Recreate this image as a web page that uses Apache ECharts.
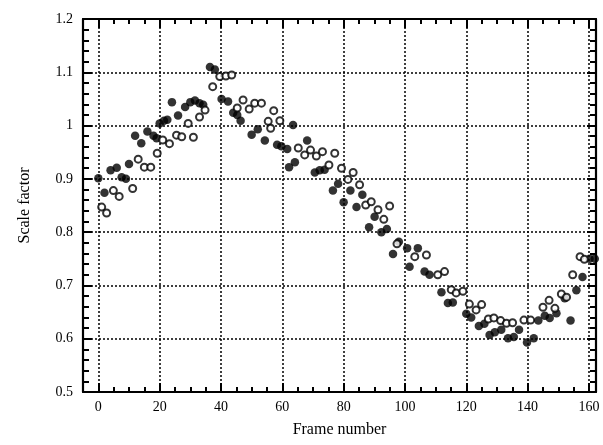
<!DOCTYPE html>
<html>
<head>
<meta charset="utf-8">
<script src="https://cdn.jsdelivr.net/npm/echarts@6/dist/echarts.min.js"></script>
<style>html,body{margin:0;padding:0;background:#fff}#c{width:603px;height:445px}</style>
</head>
<body>
<div id="c"></div>
<script>
// Filled circles
const filledFrames = [0,2,4,6,7.6,9,10,12,14,16,18,19,20,21.4,22.5,24,26,28.3,30,31.5,33,34.2,36.4,38,40.2,42.3,44,45.3,46.4,50,52,54.3,58.3,59.7,61.6,62.2,63.5,64.1,68.1,70.6,72.2,73.8,76.5,78.2,80,82.2,84.2,86.1,88.3,90.1,92.3,94.1,96.1,98,100.7,101.5,104.2,106.4,108,111.9,114,115.6,120,121.6,124.1,125.9,127.6,129.3,131.4,133.6,135.5,137.2,139.8,142,143.5,145.6,147.2,149.4,152.1,154,155.9,157.9,160.2,161.9];
const filledValues = [0.901,0.874,0.916,0.921,0.903,0.900,0.928,0.981,0.967,0.989,0.981,0.976,1.004,1.009,1.011,1.044,1.019,1.035,1.044,1.047,1.042,1.039,1.110,1.105,1.050,1.045,1.024,1.020,1.009,0.983,0.993,0.972,0.964,0.961,0.956,0.922,1.001,0.931,0.972,0.912,0.916,0.917,0.878,0.891,0.856,0.878,0.847,0.870,0.809,0.829,0.800,0.806,0.759,0.782,0.770,0.735,0.770,0.726,0.720,0.687,0.667,0.668,0.647,0.640,0.624,0.628,0.607,0.612,0.617,0.601,0.603,0.617,0.593,0.601,0.634,0.643,0.639,0.648,0.676,0.634,0.691,0.716,0.750,0.750];
// Open circles
const openFrames = [1.1,2.7,4.9,6.8,11.2,13,15,17.1,19.2,21,23.2,25.5,27.2,29.3,31,33,34.8,37.3,39.6,41.6,43.5,45.3,47.2,49.2,51,53.2,55.4,56.2,57.2,59.2,65.2,67.3,69.2,71.1,73.1,75.2,77.1,79.3,81.4,83.1,85.2,87.2,89,91.2,93.1,95,97.4,103.2,107,110.7,112.9,115.1,116.7,118.9,121,123.2,125,127.2,129,131.2,133.1,135.1,138.8,141,145,147,148.9,151,152.7,154.7,157.1,158.5];
const openValues = [0.847,0.836,0.878,0.867,0.882,0.937,0.922,0.922,0.948,0.973,0.966,0.982,0.979,1.004,0.978,1.016,1.029,1.073,1.092,1.093,1.095,1.033,1.048,1.031,1.042,1.042,1.008,0.995,1.028,1.009,0.958,0.945,0.954,0.943,0.951,0.926,0.948,0.920,0.899,0.912,0.889,0.851,0.857,0.842,0.824,0.849,0.778,0.754,0.757,0.720,0.726,0.692,0.686,0.689,0.665,0.654,0.664,0.637,0.639,0.634,0.629,0.630,0.635,0.635,0.659,0.672,0.657,0.684,0.678,0.720,0.754,0.749];
const xMajorTicks = [0,20,40,60,80,100,120,140,160];
const xMinorTicks = [5,10,15,25,30,35,45,50,55,65,70,75,85,90,95,105,110,115,125,130,135,145,150,155];

const font = 'Liberation Serif, Times New Roman, serif';
const chart = echarts.init(document.getElementById('c'));
const xCommon = {type:'value', min:-5, max:162.3, gridIndex:0};
const axisLine = {show:true, onZero:false, lineStyle:{color:'#000', width:2.2}};
const yCommon = {type:'value', min:0.5, max:1.2, interval:0.1};
chart.setOption({
  animation:false,
  grid:{left:83, right:7, top:19, bottom:53, containLabel:false},
  xAxis:[
    Object.assign({}, xCommon, {position:'bottom', name:'Frame number', nameLocation:'middle', nameGap:30,
      nameTextStyle:{fontFamily:font, fontSize:16, color:'#000'},
      axisLine:axisLine,
      axisTick:{show:true, inside:true, length:9, customValues:xMajorTicks, lineStyle:{color:'#000', width:2}},
      axisLabel:{show:true, customValues:xMajorTicks, margin:8, fontFamily:font, fontSize:14, color:'#000'},
      splitLine:{show:true, lineStyle:{color:'#000', type:[2,2], width:1.5}}}),
    Object.assign({}, xCommon, {position:'bottom', axisLine:{show:false},
      axisTick:{show:true, inside:true, length:5, customValues:xMinorTicks, lineStyle:{color:'#000', width:2}},
      axisLabel:{show:false}, splitLine:{show:false}}),
    Object.assign({}, xCommon, {position:'top', axisLine:axisLine,
      axisTick:{show:true, inside:true, length:9, customValues:xMajorTicks, lineStyle:{color:'#000', width:2}},
      axisLabel:{show:false}, splitLine:{show:false}}),
    Object.assign({}, xCommon, {position:'top', axisLine:{show:false},
      axisTick:{show:true, inside:true, length:5, customValues:xMinorTicks, lineStyle:{color:'#000', width:2}},
      axisLabel:{show:false}, splitLine:{show:false}})
  ],
  yAxis:[
    Object.assign({}, yCommon, {position:'left', name:'Scale factor', nameLocation:'middle', nameGap:50,
      nameTextStyle:{fontFamily:font, fontSize:16, color:'#000'},
      axisLine:axisLine,
      axisTick:{show:true, inside:true, length:9, lineStyle:{color:'#000', width:2}},
      minorTick:{show:true, splitNumber:5, length:6, lineStyle:{color:'#000', width:2}},
      axisLabel:{show:true, margin:10, fontFamily:font, fontSize:14, color:'#000'},
      splitLine:{show:true, lineStyle:{color:'#000', type:[2,2], width:1.5}}}),
    Object.assign({}, yCommon, {position:'right', axisLine:axisLine,
      axisTick:{show:true, inside:true, length:9, lineStyle:{color:'#000', width:2}},
      minorTick:{show:true, splitNumber:5, length:6, lineStyle:{color:'#000', width:2}},
      axisLabel:{show:false}, splitLine:{show:false}})
  ],
  series:[
    {type:'scatter', xAxisIndex:0, yAxisIndex:0, symbol:'circle', symbolSize:8.5,
      itemStyle:{color:'#000'}, data:filledFrames.map((f,i)=>[f, filledValues[i]])},
    {type:'scatter', xAxisIndex:0, yAxisIndex:0, symbol:'circle', symbolSize:7,
      itemStyle:{color:'#fff', borderColor:'#000', borderWidth:2}, data:openFrames.map((f,i)=>[f, openValues[i]])}
  ]
});
</script>
</body>
</html>
